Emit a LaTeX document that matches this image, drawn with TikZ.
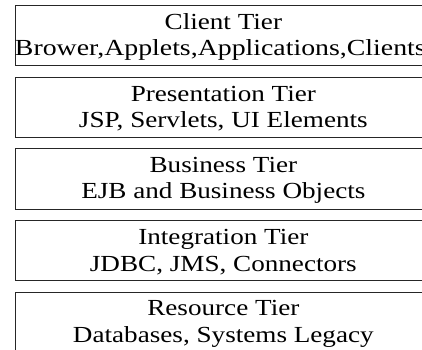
\documentclass[tikz,border=0pt]{standalone}
\usepackage{graphicx}
\usepackage{fontspec}
\setmainfont{Liberation Serif}[FakeStretch=1.18]
\begin{document}
\begin{tikzpicture}[x=1pt,y=-1pt,
  tierbox/.style={draw=black!85, line width=1pt, minimum width=415.3pt, minimum height=60.5pt, inner sep=0pt},
  tiertext/.style={inner sep=0pt, align=center, font=\fontsize{23pt}{26.3pt}\selectfont}]
\useasboundingbox (0,0) rectangle (422,349);
\clip (0,0) rectangle (422,349);
\node[tierbox] (client) at (223.35,35.7) {};
\node[tierbox] (pres) at (223.35,107.3) {};
\node[tierbox] (bus) at (223.35,179) {};
\node[tierbox] (integ) at (223.35,250.7) {};
\node[tierbox] (res) at (223.35,322.4) {};
\node[tiertext] (clientt) at ([yshift=-1.5pt]client.center) {Client Tier\\\hspace*{-6pt}\scalebox{1.025}[1]{Brower,Applets,Applications,Clients}};
\node[tiertext] (prest) at ([yshift=-1.5pt]pres.center) {Presentation Tier\\JSP, Servlets, UI Elements};
\node[tiertext] (bust) at ([yshift=-1.5pt]bus.center) {Business Tier\\EJB and Business Objects};
\node[tiertext] (integt) at ([yshift=-1.5pt]integ.center) {Integration Tier\\JDBC, JMS, Connectors};
\node[tiertext] (rest) at ([yshift=-1.5pt]res.center) {Resource Tier\\Databases, Systems Legacy};
\end{tikzpicture}
\end{document}
